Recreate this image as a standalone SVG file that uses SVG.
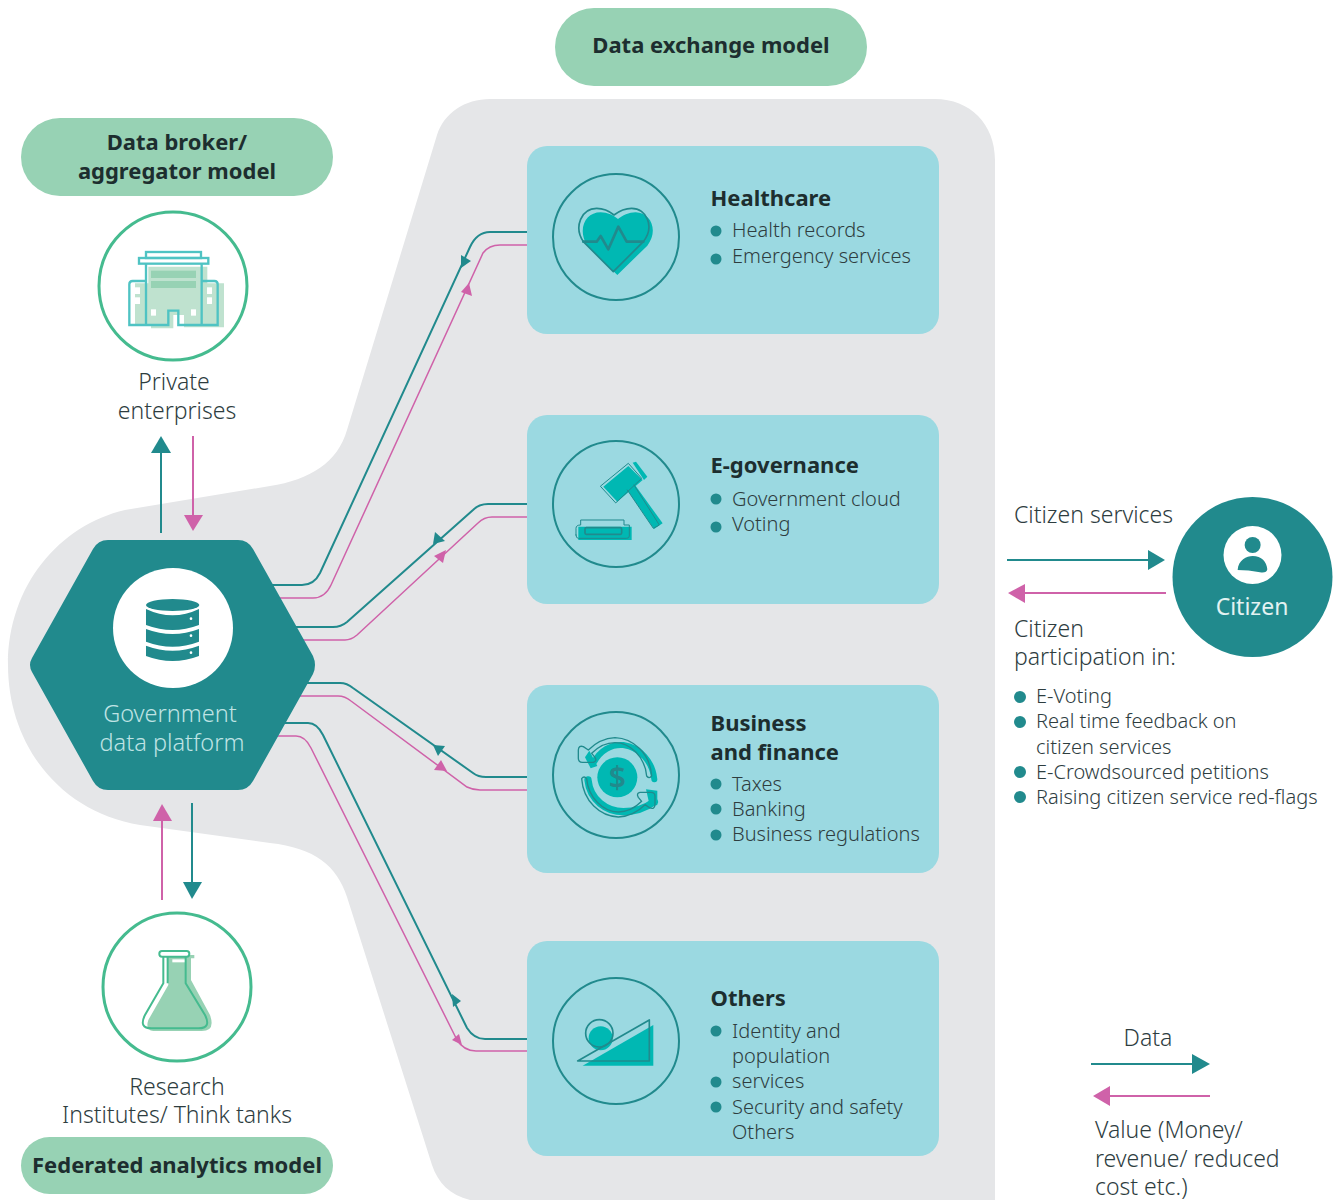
<svg xmlns="http://www.w3.org/2000/svg" width="1338" height="1200" viewBox="0 0 1338 1200">
<style>
text{font-family:"Noto Sans","Open Sans","DejaVu Sans",sans-serif;fill:#2e3d3f;font-weight:300}
.b{font-weight:700;fill:#1d2e2f}
.m{text-anchor:middle}
.pill{fill:#97d2b4}
.panel{fill:#9bd9e1}
.ring{fill:none;stroke:#218a8d;stroke-width:2}
.gring{fill:#fff;stroke:#45bb8f;stroke-width:3}
.dot{fill:#218a8d}
.t{fill:none;stroke:#218a8d;stroke-width:2}
.p{fill:none;stroke:#cf62a9;stroke-width:1.5}
.th{fill:#218a8d}
.ph{fill:#cf62a9}
.f{fill:#00b8b3}
.o{fill:none;stroke:#218a8d;stroke-width:5;stroke-linejoin:round;stroke-linecap:round}
.s20{font-size:20px}
.h{font-size:22px}
.s23{font-size:23px}
</style>
<path id="backdrop" fill="#e5e6e8" d="M437,135C444,113 465,99 490,99H935C970,99 995,124 995,160V1200H470C450,1195 438,1183 432,1165L347,897C337,866 315,848 270,843L140,825C60,812 8,745 8,665C8,585 60,525 125,510L270,486C310,480 338,462 347,430Z"/>

<g id="pill-exchange"><rect class="pill" x="555" y="8" width="312" height="78" rx="39"/><text class="b m h" x="711" y="52.500">Data exchange model</text></g>
<g id="pill-broker"><rect class="pill" x="21" y="118" width="312" height="78" rx="39"/><text class="b m h" x="177" y="150">Data broker/</text><text class="b m h" x="177" y="179">aggregator model</text></g>
<g id="pill-federated"><rect class="pill" x="21" y="1137" width="312" height="57" rx="28.500"/><text class="b m h" x="177" y="1172.500">Federated analytics model</text></g>

<g id="connectors">
<path class="t" d="M270,585H302Q314,585 320,573L470,247Q477,232 490,232H528"/>
<path class="p" d="M278,598H313Q325,598 331,585L483,253Q489,245 500,245H528"/>
<path class="t" d="M296,627H333Q341,627 347,622L473,510Q479,504 488,504H528"/>
<path class="p" d="M303,640H345Q351,640 357,635L478,523Q484,517 492,517H528"/>
<path class="t" d="M307,683H340Q347,683 353,688L473,773Q478,777 486,777H528"/>
<path class="p" d="M300,696H338Q345,696 351,701L467,787Q473,790 480,790H528"/>
<path class="t" d="M285,723H308Q317,723 323,735L467,1028Q474,1039 485,1039H528"/>
<path class="p" d="M276,736H296Q305,736 311,748L457,1040Q464,1051 476,1051H528"/>
<polygon class="th" points="461,268 461,255 471,261"/>
<polygon class="ph" points="469,283 461,292 472,296"/>
<polygon class="th" points="433,544 435,532 445,541"/>
<polygon class="ph" points="446,550 434,556 443,563"/>
<polygon class="th" points="433,745 445,746 438,756"/>
<polygon class="ph" points="447,771 434,770 441,760"/>
<polygon class="th" points="452,994 461,1001 453,1007"/>
<polygon class="ph" points="462,1045 452,1040 459,1034"/>
<path class="t" d="M161,533V450"/><polygon class="th" points="161,436 151,453 171,453"/>
<path class="p" d="M193,436V518" style="stroke-width:2"/><polygon class="ph" points="193,531 184,515 203,515"/>
<path class="p" d="M162,900V818" style="stroke-width:2"/><polygon class="ph" points="162,804 153,821 172,821"/>
<path class="t" d="M192,803V885"/><polygon class="th" points="192,899 183,882 202,882"/>
<path class="t" d="M1007,560H1150"/><polygon class="th" points="1165,560 1148,550 1148,570"/>
<path class="p" d="M1166,593H1022" style="stroke-width:2"/><polygon class="ph" points="1008,593 1025,584 1025,603"/>
<path class="t" d="M1091,1064H1195"/><polygon class="th" points="1210,1064 1192,1054 1192,1074"/>
<path class="p" d="M1210,1096H1108" style="stroke-width:2"/><polygon class="ph" points="1093,1096 1110,1086 1110,1106"/>
</g>

<g id="private-enterprises">
<circle class="gring" cx="173" cy="286" r="74"/>
<g transform="translate(90 200) scale(.3333)">
<path fill="#bfe2cf" d="M175,200H352V250H402V382H282V345H250V385H183V378H135V250H175Z"/>
<rect x="183" y="212" width="135" height="22" fill="#97d2b4"/><rect x="183" y="243" width="135" height="21" fill="#97d2b4"/>
<g fill="none" stroke="#4fc3c3" stroke-width="7"><rect x="168" y="156" width="165" height="18"/><rect x="147" y="174" width="208" height="17"/><path d="M168,191V375M335,191V375M168,243H128Q118,243 118,253V375H235V332H265V375H383V253Q383,243 373,243H335"/></g>
<g fill="#fff"><rect x="135" y="262" width="15" height="20"/><rect x="135" y="292" width="15" height="20"/><rect x="351" y="262" width="15" height="20"/><rect x="351" y="292" width="15" height="20"/><rect x="183" y="328" width="15" height="19"/><rect x="303" y="328" width="15" height="19"/></g>
</g>
<text class="m s23" x="174" y="390">Private</text><text class="m s23" x="177" y="419">enterprises</text>
</g>

<g id="research-institutes">
<circle class="gring" cx="177" cy="987" r="74"/>
<g transform="translate(95 905) scale(.3333)">
<path fill="#97d2b4" d="M215,150H298V160H288V225L345,330Q362,378 320,378H175Q150,375 160,345L220,240Z"/>
<rect x="232" y="163" width="40" height="9" fill="#fff"/>
<g fill="none" stroke="#45bb8f" stroke-width="6"><rect x="193" y="138" width="90" height="17" rx="8" fill="#fff"/><path d="M205,155V235L150,330Q130,370 170,370H310Q350,370 330,330L272,235V155M218,155V235"/></g>
</g>
<text class="m s23" x="177" y="1095">Research</text><text class="m s23" x="177" y="1123">Institutes/ Think tanks</text>
</g>

<g id="government-platform">
<path fill="#218a8d" d="M32,658L93,549Q98,540 108,540H238Q248,540 253,549L313,656Q317,665 313,674L253,781Q248,790 238,790H108Q98,790 93,781L32,672Q28,665 32,658Z"/>
<circle cx="173" cy="628" r="60" fill="#fff"/>
<g transform="translate(30 530) scale(.3333)" fill="#218a8d">
<ellipse cx="428" cy="225" rx="80" ry="18"/>
<path d="M348,237Q428,275 507,237V285Q428,315 348,285Z"/><path d="M348,297Q428,327 507,297V335Q428,365 348,335Z"/><path d="M348,347Q428,377 507,347V378Q428,408 348,378Z"/>
<g fill="#fff"><circle cx="483" cy="266" r="4"/><circle cx="483" cy="317" r="4"/><circle cx="483" cy="368" r="4"/></g>
</g>
<text class="m" style="font-size:23.500px;fill:#bfe3e4" x="170" y="721.500">Government</text><text class="m" style="font-size:23.500px;fill:#bfe3e4" x="172" y="750.500">data platform</text>
</g>

<g id="healthcare">
<rect class="panel" x="527" y="146" width="412" height="188" rx="20"/>
<circle class="ring" cx="616" cy="237" r="63"/>
<g transform="translate(540 160) scale(.3333)">
<path class="f" d="M232,345L140,255C112,205 137,157 182,157C202,157 222,167 234,177C247,167 267,157 287,157C332,157 357,212 322,257Z"/>
<path class="o" d="M220,335L130,245C100,200 125,145 170,145C190,145 210,155 222,165C235,155 255,145 275,145C320,145 345,200 310,245Z"/>
<path class="o" style="stroke-width:8;fill:none" d="M130,245H170L182,228L205,268L235,200L260,245H310"/>
</g>
<text class="b h" x="710.500" y="206">Healthcare</text>
<circle class="dot" cx="716" cy="231" r="5.500"/><text class="s20" x="732" y="236.500">Health records</text>
<circle class="dot" cx="716" cy="259" r="5.500"/><text class="s20" x="732" y="262.500">Emergency services</text>
</g>

<g id="e-governance">
<rect class="panel" x="527" y="415" width="412" height="189" rx="20"/>
<circle class="ring" cx="616" cy="504" r="63"/>
<g transform="translate(540 430) scale(.3333)">
<path class="f" d="M190,170L265,108L308,150L232,215Z"/>
<path class="f" d="M262,180L285,165L368,280L342,297Z"/>
<path class="f" d="M278,98L288,95L322,140L312,150Z"/>
<path class="f" d="M115,290H275V330H115Z"/>
<path class="o" style="stroke-width:3" fill="none" d="M182,168L265,100L305,145L228,218ZM262,180L340,295L358,285L282,165M108,315V295Q108,285 122,285V270H252V285H268V318Q268,325 260,325H115Q108,325 108,315Z"/>
<rect x="135" y="293" width="110" height="20" rx="4" fill="none" stroke="#218a8d" stroke-width="5"/>
</g>
<text class="b h" x="710.500" y="473">E-governance</text>
<circle class="dot" cx="716" cy="499" r="5.500"/><text class="s20" x="732" y="505.500">Government cloud</text>
<circle class="dot" cx="716" cy="527" r="5.500"/><text class="s20" x="732" y="530.500">Voting</text>
</g>

<g id="business-finance">
<rect class="panel" x="527" y="685" width="412" height="188" rx="20"/>
<circle class="ring" cx="616" cy="775" r="63"/>
<g transform="translate(540 700) scale(.3333)">
<circle class="f" cx="232" cy="232" r="60"/>
<path fill="none" stroke="#00b8b3" stroke-width="18" stroke-linecap="round" d="M160,190C180,150 215,132 250,135C300,142 338,185 343,238"/>
<path class="f" d="M135,172L148,152L172,198L152,205Z"/>
<path fill="none" stroke="#00b8b3" stroke-width="22" stroke-linecap="round" d="M144,240C150,300 200,335 250,335C290,335 320,322 343,305"/>
<path class="f" d="M318,268L352,272V315L330,320Z"/>
<path class="o" style="stroke-width:4" d="M335,228C330,160 280,115 225,113C190,115 165,130 145,150L130,140Q116,135 115,150V175Q115,187 127,187H160Q172,184 165,172L155,160C175,140 200,128 225,128C270,128 315,170 320,228Q328,238 335,228Z"/>
<path class="o" style="stroke-width:4" transform="rotate(180 230 232)" d="M335,228C330,160 280,115 225,113C190,115 165,130 145,150L130,140Q116,135 115,150V175Q115,187 127,187H160Q172,184 165,172L155,160C175,140 200,128 225,128C270,128 315,170 320,228Q328,238 335,228Z"/>
<text x="232" y="265" text-anchor="middle" style="font-size:90px;font-weight:600;fill:#218a8d">$</text>
</g>
<text class="b h" x="710.500" y="731">Business</text><text class="b h" x="710.500" y="760">and finance</text>
<circle class="dot" cx="716" cy="784" r="5.500"/><text class="s20" x="732" y="790.500">Taxes</text>
<circle class="dot" cx="716" cy="809" r="5.500"/><text class="s20" x="732" y="815.500">Banking</text>
<circle class="dot" cx="716" cy="835" r="5.500"/><text class="s20" x="732" y="840.500">Business regulations</text>
</g>

<g id="others">
<rect class="panel" x="527" y="941" width="412" height="215" rx="20"/>
<circle class="ring" cx="616" cy="1041" r="63"/>
<g transform="translate(540 965) scale(.3333)">
<circle class="f" cx="182" cy="220" r="36"/>
<path class="f" d="M128,302L340,180V302Z"/>
<circle class="o" cx="178" cy="205" r="41"/>
<path class="o" d="M113,288L328,165V288Z"/>
</g>
<text class="b h" x="710.500" y="1006">Others</text>
<circle class="dot" cx="716" cy="1031" r="5.500"/><text class="s20" x="732" y="1037.500">Identity and</text>
<text class="s20" x="732" y="1062.500">population</text>
<circle class="dot" cx="716" cy="1082" r="5.500"/><text class="s20" x="732" y="1087.500">services</text>
<circle class="dot" cx="716" cy="1107" r="5.500"/><text class="s20" x="732" y="1113.500">Security and safety</text>
<text class="s20" x="732" y="1138.500">Others</text>
</g>

<g id="citizen">
<circle cx="1252.500" cy="577" r="80" fill="#218a8d"/>
<circle cx="1252.500" cy="555" r="29" fill="#fff"/>
<g transform="translate(1000 490) scale(.3333)" fill="#218a8d"><circle cx="758" cy="165" r="24"/><path d="M713,240C715,210 740,198 758,198C785,198 800,215 802,238Q800,250 780,247Q745,240 713,240Z"/></g>
<text class="m" style="font-size:23px;fill:#e3f2f2;font-weight:400" x="1252" y="615">Citizen</text>
</g>

<g id="citizen-text">
<text class="s23" x="1014" y="523">Citizen services</text>
<text class="s23" x="1014" y="637">Citizen</text><text class="s23" x="1014" y="665">participation in:</text>
<circle class="dot" cx="1020" cy="697" r="6"/><text class="s20" x="1036" y="702.500">E-Voting</text>
<circle class="dot" cx="1020" cy="722" r="6"/><text class="s20" x="1036" y="727.500">Real time feedback on</text>
<text class="s20" x="1036" y="753.500">citizen services</text>
<circle class="dot" cx="1020" cy="772" r="6"/><text class="s20" x="1036" y="778.500">E-Crowdsourced petitions</text>
<circle class="dot" cx="1020" cy="797" r="6"/><text class="s20" x="1036" y="803.500">Raising citizen service red-flags</text>
</g>

<g id="legend">
<text class="m s23" x="1148" y="1046">Data</text>
<text class="s23" x="1095" y="1138">Value (Money/</text><text class="s23" x="1095" y="1167">revenue/ reduced</text><text class="s23" x="1095" y="1195">cost etc.)</text>
</g>
</svg>
